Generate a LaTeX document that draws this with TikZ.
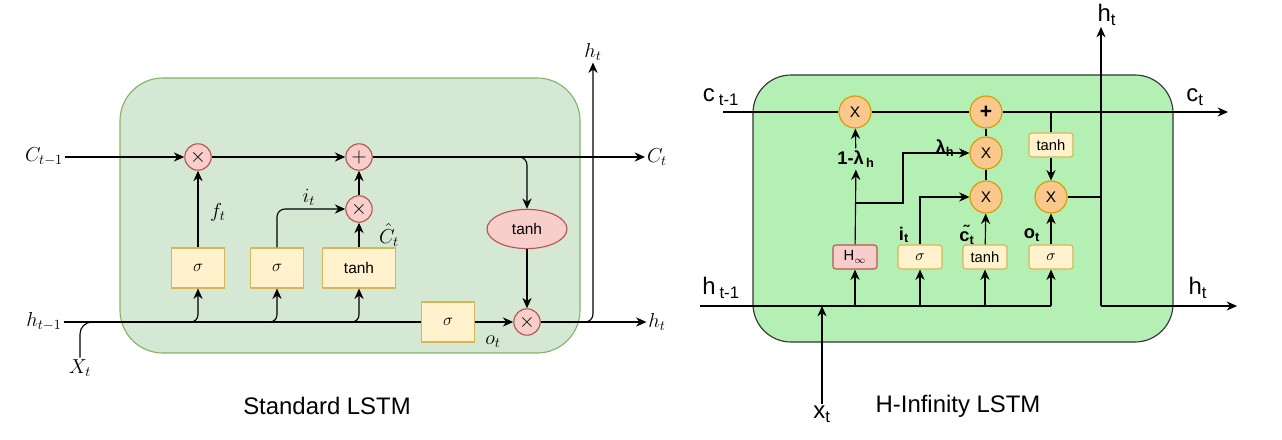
\documentclass[tikz,border=0pt]{standalone}
\usepackage{fontspec}
\setmainfont{Liberation Sans}
\usetikzlibrary{arrows.meta,shapes.geometric}

\definecolor{cellfill}{HTML}{D5E8D4}
\definecolor{cellline}{HTML}{82B366}
\definecolor{hcellfill}{HTML}{B4F0B4}
\definecolor{opfill}{HTML}{F8CECC}
\definecolor{opline}{HTML}{B85450}
\definecolor{gatefill}{HTML}{FFF2CC}
\definecolor{gateline}{HTML}{D6B656}
\definecolor{hopfill}{HTML}{FAC88C}
\definecolor{hopline}{HTML}{D79B00}

\begin{document}
\begin{tikzpicture}[x=0.025cm, y=-0.025cm, line width=0.8pt,
   arr/.style={-{Stealth[length=2.6mm,width=2.3mm]}},
   op/.style={draw=opline, fill=opfill, circle, minimum size=0.66cm, inner sep=0pt,
      font=\fontsize{14}{16}\selectfont},
   gate/.style={draw=gateline, fill=gatefill, minimum width=1.33cm, minimum height=1cm,
      inner sep=1pt, font=\fontsize{11}{13}\selectfont},
   lab/.style={inner sep=1pt, font=\fontsize{14}{16}\selectfont},
   hop/.style={draw=hopline, fill=hopfill, circle, minimum size=0.8cm, inner sep=0pt,
      font=\fontsize{11}{13}\selectfont},
   hgate/.style={draw=gateline, fill=gatefill, rounded corners=2pt, minimum width=1.1cm,
      minimum height=0.6cm, inner sep=1pt, font=\fontsize{10.5}{12}\selectfont},
   hlab/.style={inner sep=1pt, font=\fontsize{17}{19}\selectfont},
   slab/.style={inner sep=1pt, font=\bfseries\fontsize{13}{15}\selectfont},
   title/.style={font=\fontsize{17}{20}\selectfont}]
   \useasboundingbox (0,0) rectangle (1282,440);

   % standard LSTM
   \begin{scope}
      \draw[draw=cellline, fill=cellfill, rounded corners=1.07cm] (120,78) rectangle (580,353);
      \def \Ops {
         fx/198/157/$\times$,
         add/359/157/$+$,
         ix/359/209/$\times$,
         ox/527/322/$\times$}
      \def \Gates {
         fs/198/268,
         is/277/268,
         os/448/322}
      \foreach \n / \x / \y / \t in \Ops {
         \node[op] (\n) at (\x, \y){\t};
      }
      \foreach \n / \x / \y in \Gates {
         \node[gate, font=\fontsize{13}{15}\selectfont] (\n) at (\x, \y){$\sigma$};
      }
      \node[gate, minimum width=1.83cm] (ct) at (359,268){tanh};
      \node[op, ellipse, minimum width=2cm, minimum height=0.98cm,
         font=\fontsize{11}{13}\selectfont] (tc) at (527,229){tanh};

      \node[lab] (Cin) at (44,157){$C_{t-1}$};
      \node[lab] (Cout) at (657,157){$C_t$};
      \node[lab] (hin) at (44,322){$h_{t-1}$};
      \node[lab] (hout) at (657,322){$h_t$};
      \node[lab] (htop) at (593,52){$h_t$};
      \node[lab] (Xin) at (80,368){$X_t$};
      \node[lab] at (218,212){$f_t$};
      \node[lab] at (309,197){$i_t$};
      \node[lab] at (389,235){$\hat{C}_t$};
      \node[lab] at (493,342){$o_t$};
      \node[title] at (327,406){Standard LSTM};

      \coordinate (b1) at (182,322);
      \coordinate (b2) at (261,322);
      \coordinate (b3) at (343,322);
      \coordinate (xm) at (100,322);

      \path[draw, arr] (Cin) -- (fx);
      \path[draw, arr] (fx) -- (add);
      \path[draw, arr] (add) -- (Cout);
      \path[draw, arr, rounded corners=0.2cm] (add.east) -| (tc.north);
      \path[draw, arr] (tc) -- (ox);
      \path[draw, arr] (fs) -- (fx);
      \path[draw, arr, rounded corners=0.2cm] (is.north) |- (ix);
      \path[draw, arr] (ct) -- (ix);
      \path[draw, arr] (ix) -- (add);
      \path[draw] (hin) -- (os);
      \path[draw, arr] (os) -- (ox);
      \path[draw, arr] (ox) -- (hout);
      \path[draw, arr, rounded corners=0.2cm] (ox.east) -| (htop.south);
      \path[draw, rounded corners=0.3cm] (Xin.north) |- (xm);
      \foreach \b / \g in {b1/fs, b2/is, b3/ct} {
         \path[draw, arr, rounded corners=0.18cm] (\b) -| (\g.south);
      }
   \end{scope}

   % H-infinity LSTM
   \begin{scope}
      \draw[draw=black!80, fill=hcellfill, rounded corners=0.95cm] (753,75) rectangle (1173,342);
      \def \Vops {
         hx1/855/112/X,
         hadd/986/112/{\fontsize{15}{15}\selectfont\textbf{+}},
         hxl/986/153/X,
         hxi/986/197/X,
         hxo/1051/197/X}
      \def \Vgates {
         his/920/257/$\sigma$,
         hct/985/257/tanh,
         hos/1051/257/$\sigma$,
         htanh/1051/145/tanh}
      \foreach \n / \x / \y / \t in \Vops {
         \node[hop] (\n) at (\x, \y){\t};
      }
      \foreach \n / \x / \y / \t in \Vgates {
         \node[hgate] (\n) at (\x, \y){\t};
      }
      \node[hgate, draw=opline, fill=opfill] (hinf) at (855,257){H\textsubscript{$\infty$}};

      \node[hlab] (cin) at (721,97){c\,\textsubscript{t-1}};
      \node[hlab] (hin2) at (721,288){h\,\textsubscript{t-1}};
      \node[hlab] (cout) at (1195,97){c\textsubscript{t}};
      \node[hlab] (hout2) at (1198,288){h\textsubscript{t}};
      \node[hlab] (htop2) at (1107,15){h\textsubscript{t}};
      \node[hlab] (xin) at (822,414){x\textsubscript{t}};
      \node[slab] (lam1) at (856,159){1-λ\textsubscript{\,h}};
      \node[slab] (lamh) at (945,148){λ\textsubscript{h}};
      \node[slab] at (904,235){i\textsubscript{t}};
      \node[slab] at (967,235){\~{c}\textsubscript{t}};
      \node[slab] at (1032,235){o\textsubscript{t}};
      \node[title] at (958,406){H-Infinity LSTM};

      \coordinate (cL) at (723,112);
      \coordinate (cR) at (1228,112);
      \coordinate (hL) at (700,306);
      \coordinate (hv) at (1101,306);
      \coordinate (hT) at (1101,27);
      \coordinate (hR) at (1237,306);
      \coordinate (br) at (855,203);
      \coordinate (bk) at (903,153);

      \path[draw] (cL) -- (hx1) -- (hadd);
      \path[draw, arr] (hadd) -- (cR);
      \path[draw] (hadd) -- (hxl) -- (hxi);
      \path[draw, arr] (hinf) -- (lam1);
      \path[draw, arr] (lam1) -- (hx1);
      \path[draw, arr] (br) -| (bk) -- (hxl);
      \path[draw, arr] (his.north) |- (hxi);
      \path[draw, arr] (hct) -- (hxi);
      \path[draw] (htanh.north) -- (htanh.north |- hadd);
      \path[draw, arr] (htanh) -- (hxo);
      \path[draw, arr] (hos) -- (hxo);
      \path[draw] (hxo) -- (hxo -| hv);
      \path[draw, arr] (hv) -- (hT);
      \path[draw, arr] (hv) -- (hR);
      \path[draw] (hL) -- (hos |- hL);
      \path[draw, arr] (xin.north) -- (xin.north |- hL);
      \foreach \g in {hinf, his, hct, hos} {
         \path[draw, arr] (\g |- hL) -- (\g);
      }
   \end{scope}
\end{tikzpicture}
\end{document}
